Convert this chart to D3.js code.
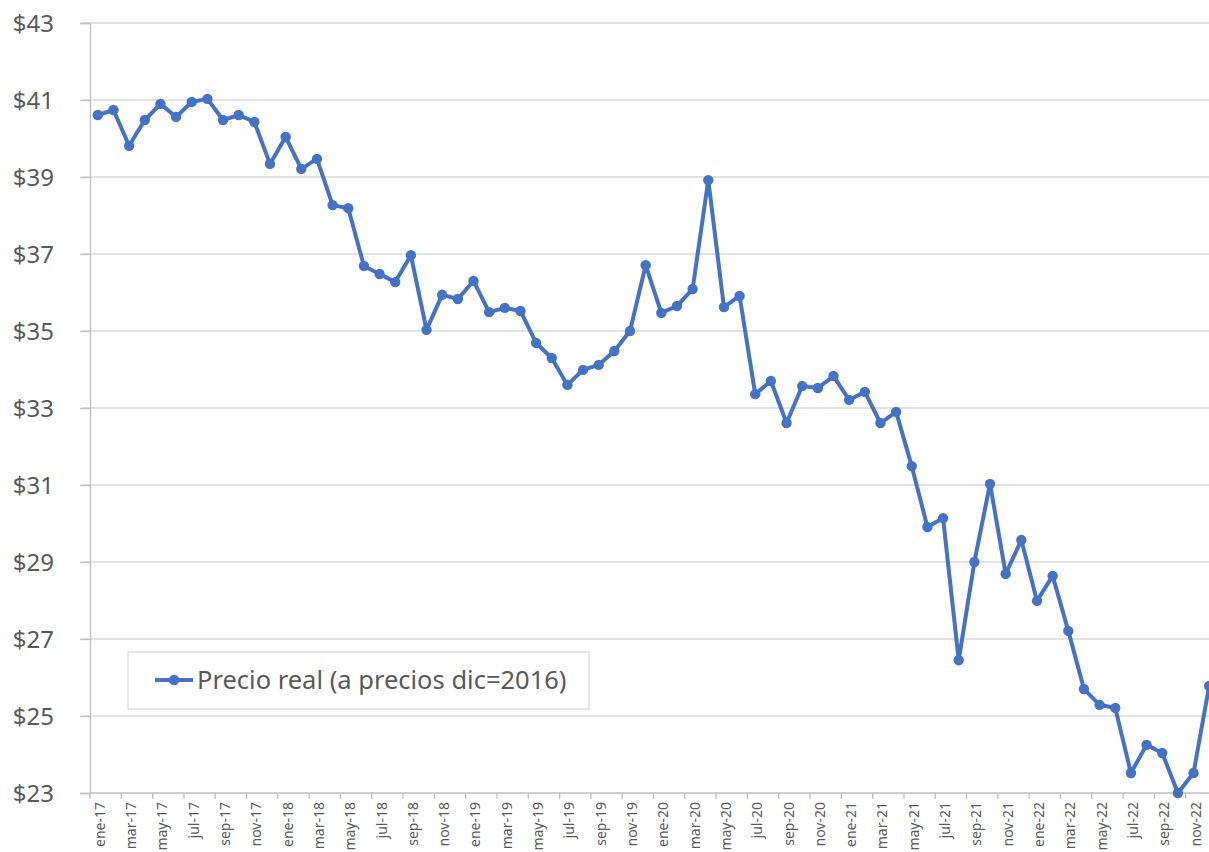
<!DOCTYPE html>
<html>
<head>
<meta charset="utf-8">
<script src="https://cdn.jsdelivr.net/npm/d3@7"></script>
<style>
  body { margin: 0; background: #fff; }
  svg { display: block; font-family: "Noto Sans", "Open Sans", sans-serif; }
</style>
</head>
<body>
<div id="chart"></div>
<script>

// monthly labels, ene-17 .. dic-22
var months = ["ene", "feb", "mar", "abr", "may", "jun", "jul", "ago", "sep", "oct", "nov", "dic"];
var years = ["17", "18", "19", "20", "21", "22"];

// Precio real (a precios dic=2016)
var precio = [
  40.61, 40.74, 39.81, 40.48, 40.90, 40.56, 40.95, 41.03, 40.48, 40.61, 40.43, 39.34,
  40.04, 39.21, 39.47, 38.27, 38.19, 36.69, 36.48, 36.27, 36.97, 35.03, 35.94, 35.83,
  36.30, 35.49, 35.60, 35.52, 34.69, 34.30, 33.60, 33.99, 34.12, 34.48, 35.00, 36.71,
  35.47, 35.65, 36.09, 38.92, 35.62, 35.91, 33.36, 33.70, 32.61, 33.57, 33.52, 33.83,
  33.21, 33.42, 32.61, 32.90, 31.49, 29.91, 30.14, 26.45, 29.00, 31.03, 28.69, 29.57,
  27.99, 28.64, 27.21, 25.70, 25.29, 25.21, 23.52, 24.25, 24.04, 23.00, 23.52, 25.78
];

var yTicks = [23, 25, 27, 29, 31, 33, 35, 37, 39, 41, 43];
var seriesName = "Precio real (a precios dic=2016)";

var categories = [];
years.forEach(function(y) {
  months.forEach(function(m) { categories.push(m + "-" + y); });
});

var data = categories.map(function(c, i) { return { label: c, value: precio[i] }; });

var width = 1209, height = 852;
var margin = { top: 23, left: 90, bottom: 59 };
var plotRight = 1217; // plot runs past the right edge, as in the picture

var svg = d3.select("#chart").append("svg")
    .attr("width", width)
    .attr("height", height);

var x = d3.scaleBand()
    .domain(categories)
    .range([margin.left, plotRight]);

var y = d3.scaleLinear()
    .domain([23, 43])
    .range([height - margin.bottom, margin.top]);

// gridlines
svg.append("g").selectAll("line")
    .data(yTicks.slice(1))
  .enter().append("line")
    .attr("x1", margin.left - 8)
    .attr("x2", plotRight)
    .attr("y1", function(d) { return y(d); })
    .attr("y2", function(d) { return y(d); })
    .attr("stroke", "#d9d9d9")
    .attr("stroke-width", 1.3);

// y labels
var yAxis = d3.axisLeft(y)
    .tickValues(yTicks)
    .tickSize(10)
    .tickPadding(26)
    .tickFormat(function(d) { return "$" + d; });

var gy = svg.append("g")
    .attr("transform", "translate(" + margin.left + ",0)")
    .call(yAxis)
    .attr("font-family", null)
    .attr("font-size", null);
gy.select(".domain").attr("stroke", "#bfbfbf").attr("stroke-width", 1.3);
gy.selectAll(".tick line").attr("stroke", "#bfbfbf").attr("stroke-width", 1.3);
gy.selectAll(".tick text")
    .attr("fill", "#595959")
    .attr("dy", "0.36em")
    .style("font-size", "24px");

// x axis: ticks between every second category, labels on every second one
var xBase = y(23);
var gx = svg.append("g");
gx.append("line")
    .attr("x1", margin.left).attr("x2", plotRight)
    .attr("y1", xBase).attr("y2", xBase)
    .attr("stroke", "#bfbfbf").attr("stroke-width", 1.3);

gx.selectAll(".xt")
    .data(categories.filter(function(d, i) { return i % 2 === 0; }))
  .enter().append("line")
    .attr("class", "xt")
    .attr("x1", function(d) { return x(d); })
    .attr("x2", function(d) { return x(d); })
    .attr("y1", xBase).attr("y2", xBase + 6)
    .attr("stroke", "#bfbfbf").attr("stroke-width", 1.3);

gx.selectAll(".xl")
    .data(categories.filter(function(d, i) { return i % 2 === 0; }))
  .enter().append("text")
    .attr("class", "xl")
    .attr("transform", function(d) {
      return "translate(" + (x(d) + x.bandwidth() / 2 + 7) + "," + (xBase + 9) + ") rotate(-90)";
    })
    .attr("text-anchor", "end")
    .attr("fill", "#595959")
    .style("font-size", "14px")
    .text(function(d) { return d; });

// line
var cx = function(d) { return x(d.label) + x.bandwidth() / 2; };
var line = d3.line()
    .x(cx)
    .y(function(d) { return y(d.value); });

svg.append("path")
    .datum(data)
    .attr("fill", "none")
    .attr("stroke", "#4472c4")
    .attr("stroke-width", 4)
    .attr("stroke-linejoin", "round")
    .attr("d", line);

svg.append("g").selectAll("circle")
    .data(data)
  .enter().append("circle")
    .attr("cx", cx)
    .attr("cy", function(d) { return y(d.value); })
    .attr("r", 5.2)
    .attr("fill", "#4472c4");

// legend
var lg = svg.append("g").attr("transform", "translate(128,652)");
lg.append("rect")
    .attr("width", 461).attr("height", 57)
    .attr("fill", "#fff")
    .attr("stroke", "#d9d9d9")
    .attr("stroke-width", 1.3);
lg.append("line")
    .attr("x1", 27).attr("x2", 65)
    .attr("y1", 28).attr("y2", 28)
    .attr("stroke", "#4472c4").attr("stroke-width", 4);
lg.append("circle")
    .attr("cx", 46).attr("cy", 28).attr("r", 5.2)
    .attr("fill", "#4472c4");
lg.append("text")
    .attr("x", 69).attr("y", 37)
    .attr("fill", "#595959")
    .style("font-size", "25.5px")
    .text(seriesName);

</script>
</body>
</html>
